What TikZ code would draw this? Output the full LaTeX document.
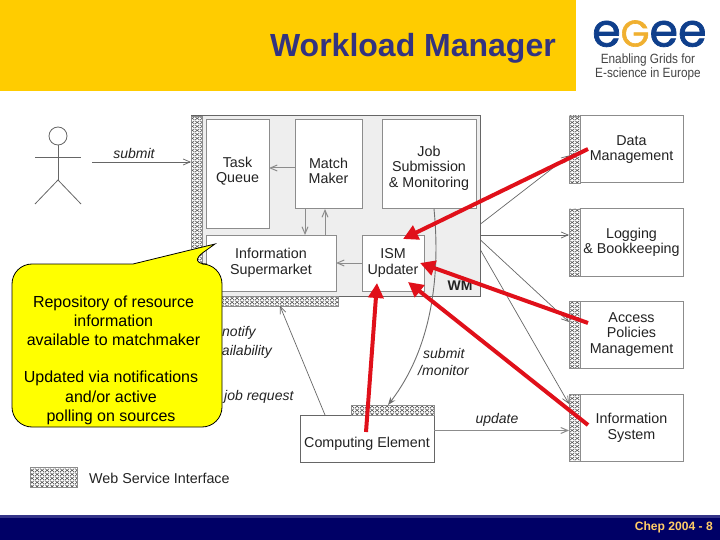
\documentclass[tikz,border=0pt]{standalone}
\usepackage{xcolor}
\usepackage{fontspec}
\setmainfont{Liberation Sans}
\newfontfamily\logofont[FakeBold=1.6]{Poppins}
\newfontfamily\logotextfont[FakeStretch=0.88]{Liberation Sans}
\usetikzlibrary{arrows.meta, positioning, patterns}
\pgfdeclarepatternformonly{weavehatch}{\pgfpointorigin}{\pgfqpoint{5pt}{4pt}}{\pgfqpoint{5pt}{4pt}}{
    \pgfsetlinewidth{0.7pt}
    \pgfpathmoveto{\pgfpointorigin}\pgfpathlineto{\pgfqpoint{5pt}{4pt}}
    \pgfpathmoveto{\pgfqpoint{0pt}{4pt}}\pgfpathlineto{\pgfqpoint{5pt}{0pt}}
    \pgfusepath{stroke}
}
\definecolor{headeryellow}{HTML}{FFCC00}
\definecolor{footernavy}{HTML}{000066}
\definecolor{footerline}{HTML}{333388}
\definecolor{footertext}{HTML}{FFCC66}
\definecolor{titleblue}{HTML}{333380}
\definecolor{wmgray}{HTML}{EEEEEE}
\definecolor{boxgray}{HTML}{8C8C8C}
\definecolor{linegray}{HTML}{666666}
\definecolor{inktext}{HTML}{222222}
\definecolor{calloutyellow}{HTML}{FFFF00}
\definecolor{updatered}{HTML}{E0101A}
\definecolor{logoblue}{HTML}{0F3F8C}
\definecolor{logogold}{HTML}{F0B030}
\definecolor{logotext}{HTML}{444444}
\tikzset{
    wmbox/.style={
        rectangle, draw=boxgray, fill=white, line width=1pt,
        inner sep=0pt, outer sep=0pt, align=center, text=inktext,
        font=\fontsize{14.3}{15.6}\selectfont,
        execute at begin node=\rule{0pt}{13.4pt}
    },
    svcbox/.style={
        wmbox, minimum width=103pt, minimum height=67pt
    },
    hatchstrip/.style={
        rectangle, draw=boxgray, line width=0.4pt, inner sep=0pt, outer sep=0pt,
        preaction={fill=white}, pattern=weavehatch, pattern color=black!65
    },
    boxtext/.style={
        align=center, text=inktext, inner sep=0pt,
        font=\fontsize{14.3}{15.6}\selectfont,
        execute at begin node=\rule{0pt}{13.4pt}
    },
    flowlabel/.style={
        text=inktext, inner sep=0pt,
        font=\fontsize{14}{17.5}\selectfont\itshape, align=left
    },
    flowarrow/.style={
        -{Straight Barb[length=7pt,width=6pt]}, line width=0.7pt, color=linegray
    },
    innerarrow/.style={
        -{Straight Barb[length=7pt,width=6pt]}, line width=1pt, color=boxgray
    },
    redarrow/.style={
        -{Triangle[length=15pt,width=15pt]}, line width=4pt, color=updatered
    },
    calloutline/.style={
        text=black, align=center, inner sep=0pt,
        font=\fontsize{16}{19.2}\selectfont
    },
}
\begin{document}
\begin{tikzpicture}[x=1pt, y=-1pt]
    \useasboundingbox (0,0) rectangle (720,540);

    % Header and footer bars
    \fill[headeryellow] (0,0) rectangle (576,91);
    \fill[footernavy] (0,516) rectangle (720,540);
    \fill[footerline] (0,515) rectangle (720,518);
    \node[anchor=east, inner sep=0pt, text=titleblue, font=\fontsize{32}{36}\selectfont\bfseries] (title) at (556,48.5) {Workload Manager};
    \node[anchor=east, inner sep=0pt, text=footertext, font=\fontsize{12.1}{14}\selectfont\bfseries] (footer) at (713,527) {Chep 2004 - 8};

    % Logo
    \node[anchor=base west, inner sep=0pt, font=\fontsize{46}{46}\logofont] (logo) at (592,46.5) {\textcolor{logoblue}{e}\textcolor{logogold}{\fontsize{37}{37}\selectfont G}\textcolor{logoblue}{ee}};
    \node[anchor=center, inner sep=0pt, align=center, text=logotext, font=\fontsize{13.4}{13.4}\logotextfont] (logotext) at (648,67) {Enabling Grids for\\E-science in Europe};

    % Workload manager frame
    \node[wmbox, draw=linegray, fill=wmgray, anchor=north west, minimum width=289pt, minimum height=180pt] (wm) at (191,116) {};
    \node[hatchstrip, anchor=north west, minimum width=11pt, minimum height=180pt] (wmhatch) at (191,116) {};
    \node[hatchstrip, anchor=north west, minimum width=148pt, minimum height=10pt] (wmbottom) at (190,296) {};
    \node[inner sep=0pt, font=\fontsize{14}{16}\selectfont\bfseries, text=inktext] (wmlabel) at (460,286) {WM};

    % Boxes inside the frame
    \node[wmbox, anchor=north west, minimum width=63pt, minimum height=109pt] (taskqueue) at (206,120) {};
    \node[boxtext] (taskqueuetext) at ([yshift=3.5pt]taskqueue.center) {Task\\Queue};
    \node[wmbox, anchor=north west, minimum width=67pt, minimum height=89pt] (matchmaker) at (295,120) {};
    \node[boxtext] (matchmakertext) at ([yshift=-6.5pt]matchmaker.center) {Match\\Maker};
    \node[wmbox, anchor=north west, minimum width=94pt, minimum height=89pt] (jobsub) at (382,120) {};
    \node[boxtext] (jobsubtext) at ([yshift=-3.5pt]jobsub.center) {Job\\Submission\\\& Monitoring};
    \node[wmbox, anchor=north west, minimum width=130pt, minimum height=56pt] (infosuper) at (206,235) {Information\\Supermarket};
    \node[wmbox, anchor=north west, minimum width=62pt, minimum height=56pt] (ismupdater) at (362,235) {ISM\\Updater};

    % Service column
    \node[svcbox, anchor=north west] (datamgmt) at (580,116) {Data\\Management};
    \node[svcbox, below=26pt of datamgmt] (logging) {Logging\\\& Bookkeeping};
    \node[svcbox, below=25pt of logging] (access) {Access\\Policies\\Management};
    \node[svcbox, below=26pt of access] (infosys) {Information\\System};
    \node[hatchstrip, anchor=north east, minimum width=11pt, minimum height=67pt] (datahatch) at (datamgmt.north west) {};
    \node[hatchstrip, anchor=north east, minimum width=11pt, minimum height=67pt] (loghatch) at (logging.north west) {};
    \node[hatchstrip, anchor=north east, minimum width=11pt, minimum height=67pt] (accesshatch) at (access.north west) {};
    \node[hatchstrip, anchor=north east, minimum width=11pt, minimum height=67pt] (infohatch) at (infosys.north west) {};

    % Computing element
    \node[wmbox, draw=linegray, anchor=north west, minimum width=134pt, minimum height=47pt] (ce) at (300,415) {};
    \node[boxtext] (cetext) at ([yshift=-3.5pt]ce.center) {Computing Element};
    \node[hatchstrip, anchor=south east, minimum width=83pt, minimum height=10pt] (cehatch) at (ce.north east) {};

    % Legend
    \node[hatchstrip, anchor=north west, minimum width=47pt, minimum height=20pt] (legendhatch) at (30,467) {};
    \node[boxtext, right=12pt of legendhatch] (legendtext) {Web Service Interface};

    % Actor
    \node[circle, draw=linegray, line width=0.8pt, minimum size=18pt, inner sep=0pt] (head) at (58,136) {};
    \coordinate (hip) at (58,180);
    \coordinate (userhand) at (92,162);
    \draw[linegray, line width=0.8pt] (head.south) -- (hip);
    \draw[linegray, line width=0.8pt] (35,157) -- (81,157);
    \draw[linegray, line width=0.8pt] (35,204) -- (hip) -- (81,204);

    % Labels on the flows
    \node[flowlabel] (submitlab) at (134,153) {submit};
    \node[flowlabel, anchor=west] (notifylab) at (222,333) {notify};
    \node[flowlabel, anchor=west] (availlab) at (207,351.5) {availability};
    \node[flowlabel, anchor=west] (jobreqlab) at (224,397) {job request};
    \node[flowlabel, anchor=west] (monitorlab) at (418,362) {\hspace{5pt}submit\\/monitor};
    \node[flowlabel] (updatelab) at (497,420) {update};

    % Arrows inside the frame
    \draw[innerarrow] ([yshift=-3.5pt]matchmaker.west) -- ([yshift=-3.5pt]matchmaker.west -| taskqueue.east);
    \draw[innerarrow] (305,209) -- (305,235);
    \draw[innerarrow] (325,235) -- (325,209);
    \draw[innerarrow] (ismupdater.west) -- (infosuper.east);

    % Arrows to the services
    \draw[flowarrow] (userhand) -- (userhand -| wmhatch.west);
    \draw[flowarrow] (480.5,224) -- ([yshift=-6pt]datahatch.west);
    \draw[flowarrow] (480.5,235) -- (480.5,235 -| loghatch.west);
    \draw[flowarrow] (480.5,240) -- ([yshift=12.5pt]accesshatch.west);
    \draw[flowarrow] (480.5,250) -- ([yshift=-10pt]infohatch.north west);
    \draw[flowarrow, boxgray, line width=1pt] (ce.east) ++(0,-8) -- ++(135,0);
    \draw[flowarrow] (ce.north) ++(-42,0) -- (280,306);
    \draw[-{Stealth[length=8pt,width=6pt]}, line width=0.9pt, boxgray!80!black] (434,209) .. controls (440,270) and (434,345) .. (388,405);

    % Callout
    \filldraw[fill=calloutyellow, draw=black, line width=0.8pt, rounded corners=20pt]
        (133,264) -- (12,264) -- (12,427) -- (222,427) -- (222,264) -- (187,264)
        [sharp corners] -- (215,244) -- cycle;
    \node[calloutline] (repotext) at (113.5,320.5) {Repository of resource\\information\\available to matchmaker};
    \node[calloutline] (updatedtext) at (111,398) {Updated via notifications\\and/or active\\polling on sources};

    % Red arrows to the updater
    \coordinate (datatail) at (588,149);
    \coordinate (accesstail) at (588,323);
    \coordinate (infotail) at (588,425);
    \coordinate (cetail) at (366,432);
    \draw[redarrow] (datatail) -- (403,239);
    \draw[redarrow] (accesstail) -- (420,263);
    \draw[redarrow] (infotail) -- (408,282);
    \draw[redarrow] (cetail) -- (377,283);

\end{tikzpicture}
\end{document}
